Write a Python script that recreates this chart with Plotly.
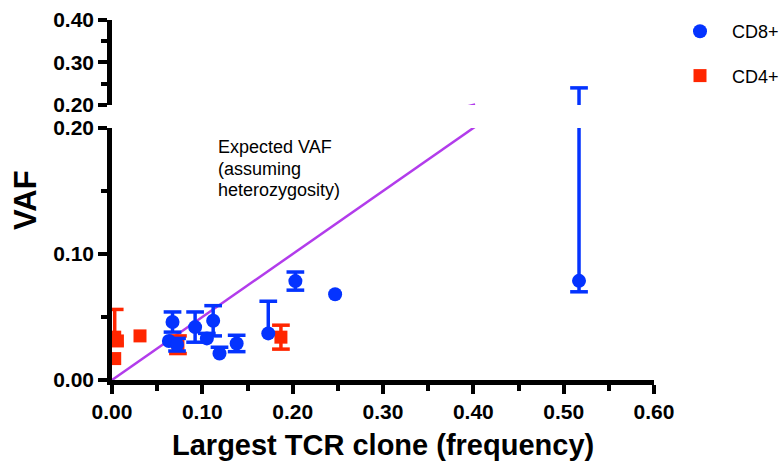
import plotly.graph_objects as go

# ---------------- data ----------------
cd8_x = [0.067, 0.063, 0.072, 0.092, 0.112, 0.105, 0.119, 0.138, 0.173, 0.203, 0.247, 0.517]
cd8_y = [0.046, 0.031, 0.028, 0.042, 0.047, 0.033, 0.021, 0.029, 0.037, 0.0785, 0.068, 0.0787]
cd8_err_plus = [0.008, 0.0, 0.005, 0.012, 0.012, 0.004, 0.005, 0.0065, 0.0255, 0.0072, 0.0, 0.1615]
cd8_err_minus = [0.008, 0.0, 0.005, 0.012, 0.012, 0.0, 0.0, 0.0065, 0.0, 0.0072, 0.0, 0.0087]

cd4_x = [0.003, 0.006, 0.003, 0.031, 0.073, 0.187]
cd4_y = [0.034, 0.031, 0.017, 0.035, 0.028, 0.034]
cd4_err_plus = [0.022, 0.0, 0.0, 0.0, 0.007, 0.0095]
cd4_err_minus = [0.0055, 0.0, 0.0, 0.0, 0.007, 0.0095]

expected_x = [0.0, 0.402]
expected_y = [0.0, 0.201]

x_range = [0.0, 0.6]
y_low_range = [0.0, 0.2]
y_high_range = [0.2, 0.4]

x_tickvals = [0.0, 0.1, 0.2, 0.3, 0.4, 0.5, 0.6]
x_ticktext = ["0.00", "0.10", "0.20", "0.30", "0.40", "0.50", "0.60"]
y_low_tickvals = [0.0, 0.1, 0.2]
y_low_ticktext = ["0.00", "0.10", "0.20"]
y_high_tickvals = [0.2, 0.3, 0.4]
y_high_ticktext = ["0.20", "0.30", "0.40"]

BLUE = "#0433FF"
RED = "#FF2600"
PURPLE = "#B23CEB"
FONT = "Liberation Sans, Arial, sans-serif"
CAP = 0.0098  # half cap width in x data units
LINE_W = 4.5


def err_segments(xs, ys, ep, em, cw):
    sx, sy = [], []
    for x, y, p, m in zip(xs, ys, ep, em):
        if p > 0:
            sx += [x, x, None, x - cw, x + cw, None]
            sy += [y, y + p, None, y + p, y + p, None]
        if m > 0:
            sx += [x, x, None, x - cw, x + cw, None]
            sy += [y, y - m, None, y - m, y - m, None]
    return sx, sy


fig = go.Figure()

r_ex, r_ey = err_segments(cd4_x, cd4_y, cd4_err_plus, cd4_err_minus, CAP)
b_ex, b_ey = err_segments(cd8_x, cd8_y, cd8_err_plus, cd8_err_minus, CAP)

for xa, ya in (("x", "y"), ("x2", "y2")):
    fig.add_trace(go.Scatter(x=expected_x, y=expected_y, mode="lines",
                             line=dict(color=PURPLE, width=2.5),
                             showlegend=False, hoverinfo="skip", xaxis=xa, yaxis=ya))
    fig.add_trace(go.Scatter(x=r_ex, y=r_ey, mode="lines",
                             line=dict(color=RED, width=3.5),
                             showlegend=False, hoverinfo="skip", xaxis=xa, yaxis=ya))

fig.add_trace(go.Scatter(x=cd4_x, y=cd4_y, mode="markers", name="CD4+",
                         marker=dict(symbol="square", size=13, color=RED),
                         legendgroup="cd4", legendrank=2, xaxis="x", yaxis="y"))

for xa, ya in (("x", "y"), ("x2", "y2")):
    fig.add_trace(go.Scatter(x=b_ex, y=b_ey, mode="lines",
                             line=dict(color=BLUE, width=3.5),
                             showlegend=False, hoverinfo="skip", xaxis=xa, yaxis=ya))

fig.add_trace(go.Scatter(x=cd8_x, y=cd8_y, mode="markers", name="CD8+",
                         marker=dict(symbol="circle", size=14, color=BLUE),
                         legendgroup="cd8", legendrank=1, xaxis="x", yaxis="y"))

minor_ticks = dict(dtick=0.05, tick0=0, ticks="outside", ticklen=6, tickwidth=4,
                   tickcolor="black", showgrid=False)
axis_common = dict(showline=True, linewidth=LINE_W, linecolor="black", mirror=False,
                   ticks="outside", ticklen=9, tickwidth=4, tickcolor="black",
                   tickmode="array", showgrid=False, zeroline=False,
                   minor=minor_ticks,
                   tickfont=dict(family=FONT, size=21, color="black", weight="bold"))

fig.update_layout(
    width=780, height=466,
    margin=dict(l=112, r=126, t=20, b=86, autoexpand=False),
    paper_bgcolor="white", plot_bgcolor="white",
    font=dict(family=FONT, color="black"),
    xaxis=dict(domain=[0, 1], range=x_range, anchor="y",
               tickvals=x_tickvals, ticktext=x_ticktext, **axis_common),
    yaxis=dict(domain=[0, 0.7], range=y_low_range, anchor="x",
               tickvals=y_low_tickvals, ticktext=y_low_ticktext, **axis_common),
    xaxis2=dict(domain=[0, 1], range=x_range, anchor="y2", visible=False),
    yaxis2=dict(domain=[0.764, 1], range=y_high_range, anchor="x2",
                tickvals=y_high_tickvals, ticktext=y_high_ticktext, **axis_common),
    legend=dict(xref="container", yref="container", x=668 / 780, y=(466 - 13) / 466,
                xanchor="left", yanchor="top",
                font=dict(family=FONT, size=18, color="black"),
                itemwidth=54, tracegroupgap=18, bgcolor="rgba(0,0,0,0)"),
    showlegend=True,
)

fig.add_annotation(text="VAF", xref="paper", yref="paper", x=-0.1605, y=0.5,
                   textangle=-90, showarrow=False, xanchor="center", yanchor="middle",
                   font=dict(family=FONT, size=31, color="black", weight="bold"))
fig.add_annotation(text="Largest TCR clone (frequency)", xref="paper", yref="paper",
                   x=0.5, y=-0.18, showarrow=False, xanchor="center", yanchor="middle",
                   font=dict(family=FONT, size=29, color="black", weight="bold"))

for i, line in enumerate(["Expected VAF", "(assuming", "heterozygosity)"]):
    fig.add_annotation(text=line, xref="paper", yref="paper",
                       x=0.1919, y=(380 - (147 + 21.5 * i)) / 360,
                       showarrow=False, xanchor="left", yanchor="middle",
                       font=dict(family=FONT, size=18, color="black"))

fig.write_html("out.html")
